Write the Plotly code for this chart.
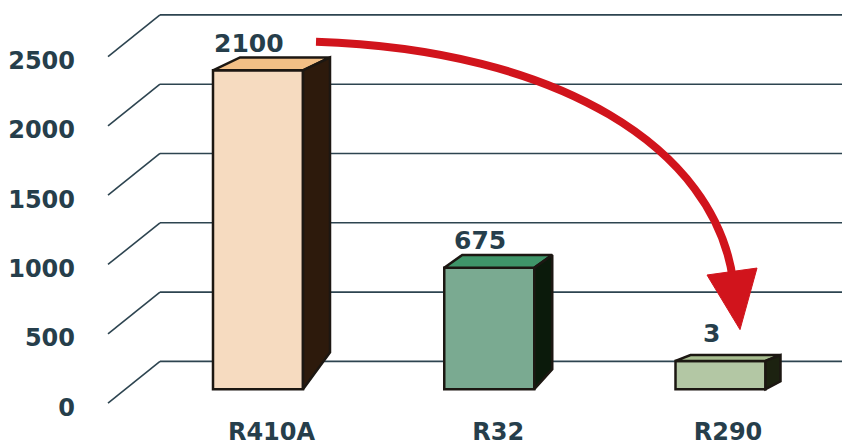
import plotly.graph_objects as go

# ---------------- data ----------------
categories = ["R410A", "R32", "R290"]
gwp_values = [2100, 675, 3]
y_ticks = [0, 500, 1000, 1500, 2000, 2500]
y_tick_labels = ["0", "500", "1000", "1500", "2000", "2500"]

# ---------------- style ----------------
FRONT_COLORS = ["#f6dbc0", "#7aaa91", "#b3c7a4"]
TOP_COLORS = ["#f2bf86", "#3f9569", "#a7bd8f"]
SIDE_COLORS = ["#2d1a0c", "#0b1a0b", "#1c2210"]
OUTLINE = "#1c1712"
TEXT = "#263e4b"
GRID = "#2d4450"
RED = "#d1141c"
FONT = "DejaVu Sans"

W, H = 842, 446
ML, MB = 80, 30
# pixel <-> data mapping used for decorations
X0PX, XSCALE = 258.0, 231.25
Y0PX, YSCALE = 364.0, 0.1396


def xd(px):
    return (px - X0PX) / XSCALE


def yd(py):
    return (Y0PX - py) / YSCALE


FLOOR = yd(392)            # bars stand on the floor below the back-wall zero
FRONT_SHIFT = 42 / YSCALE  # front plane is 42 px lower than the back wall
BAR_W = 90 / XSCALE
# per-bar depth (pixels): dx, dy at top, dy at bottom
DEPTH_DX = [27, 18, 15]
DEPTH_DYT = [-13, -13, -6]
DEPTH_DYB = [-37, -20, -8]

fig = go.Figure()
xs = list(range(len(categories)))

# front faces
for i, (c, v) in enumerate(zip(categories, gwp_values)):
    fig.add_trace(go.Bar(
        x=[i], y=[v - FLOOR], base=[FLOOR], width=BAR_W,
        marker=dict(color=FRONT_COLORS[i], line=dict(color=OUTLINE, width=2.5)),
        name=c, showlegend=False, hoverinfo="skip"))

# top and side faces
for i, v in enumerate(gwp_values):
    xl, xr = i - BAR_W / 2, i + BAR_W / 2
    ddx = DEPTH_DX[i] / XSCALE
    dyt = -DEPTH_DYT[i] / YSCALE
    dyb = -DEPTH_DYB[i] / YSCALE
    fig.add_trace(go.Scatter(
        x=[xl, xr, xr + ddx, xl + ddx, xl], y=[v, v, v + dyt, v + dyt, v],
        fill="toself", fillcolor=TOP_COLORS[i], mode="lines",
        line=dict(color=OUTLINE, width=2.5), showlegend=False, hoverinfo="skip"))
    fig.add_trace(go.Scatter(
        x=[xr, xr + ddx, xr + ddx, xr, xr], y=[v, v + dyt, FLOOR + dyb, FLOOR, v],
        fill="toself", fillcolor=SIDE_COLORS[i], mode="lines",
        line=dict(color=OUTLINE, width=2.5), showlegend=False, hoverinfo="skip"))

# gridlines (back wall + diagonal to the front)
shapes = []
for t in y_ticks:
    shapes.append(dict(type="line", xref="x", yref="y", x0=xd(108), y0=t - FRONT_SHIFT,
                       x1=xd(160), y1=t, line=dict(color=GRID, width=1.6), layer="below"))
    shapes.append(dict(type="line", xref="x", yref="y", x0=xd(160), y0=t,
                       x1=xd(842), y1=t, line=dict(color=GRID, width=1.6), layer="below"))

# red curved arrow (decoration)
p0, p1, p2, p3 = (316, 42), (560, 50), (715, 150), (733, 282)
path = "M {},{} C {},{} {},{} {},{}".format(
    xd(p0[0]), yd(p0[1]), xd(p1[0]), yd(p1[1]), xd(p2[0]), yd(p2[1]), xd(p3[0]), yd(p3[1]))
shapes.append(dict(type="path", xref="x", yref="y", path=path,
                   line=dict(color=RED, width=8), layer="above"))
head = "M {},{} L {},{} L {},{} Z".format(
    xd(707), yd(277), xd(757), yd(270), xd(740), yd(332))
shapes.append(dict(type="path", xref="x", yref="y", path=head,
                   fillcolor=RED, line=dict(color=RED, width=1), layer="above"))

# value labels
annotations = []
for i, v in enumerate(gwp_values):
    annotations.append(dict(x=i - 0.04, y=v, xref="x", yref="y", text=str(v),
                            showarrow=False, yshift=27, xanchor="center", yanchor="middle",
                            font=dict(family=FONT, size=25, color=TEXT, weight="bold")))

fig.update_layout(
    width=W, height=H,
    margin=dict(l=ML, r=0, t=0, b=MB, pad=0),
    paper_bgcolor="white", plot_bgcolor="white",
    shapes=shapes, annotations=annotations,
    barmode="overlay",
    xaxis=dict(range=[xd(ML), xd(W)], showgrid=False, zeroline=False, showline=False,
               tickvals=[i + DEPTH_DX[i] / 2 / XSCALE for i in xs], ticktext=categories,
               ticks="", ticklabelstandoff=2,
               tickfont=dict(family=FONT, size=24, color=TEXT, weight="bold")),
    yaxis=dict(range=[yd(H - MB), yd(0)], showgrid=False, zeroline=False, showline=False,
               tickvals=[t - FRONT_SHIFT - 30 for t in y_ticks], ticktext=y_tick_labels,
               ticks="", ticklabelstandoff=4,
               tickfont=dict(family=FONT, size=24, color=TEXT, weight="bold")),
)

fig.write_html("out.html", config={"displayModeBar": False},
               post_script="document.body.style.margin='0';document.body.style.overflow='hidden';")
